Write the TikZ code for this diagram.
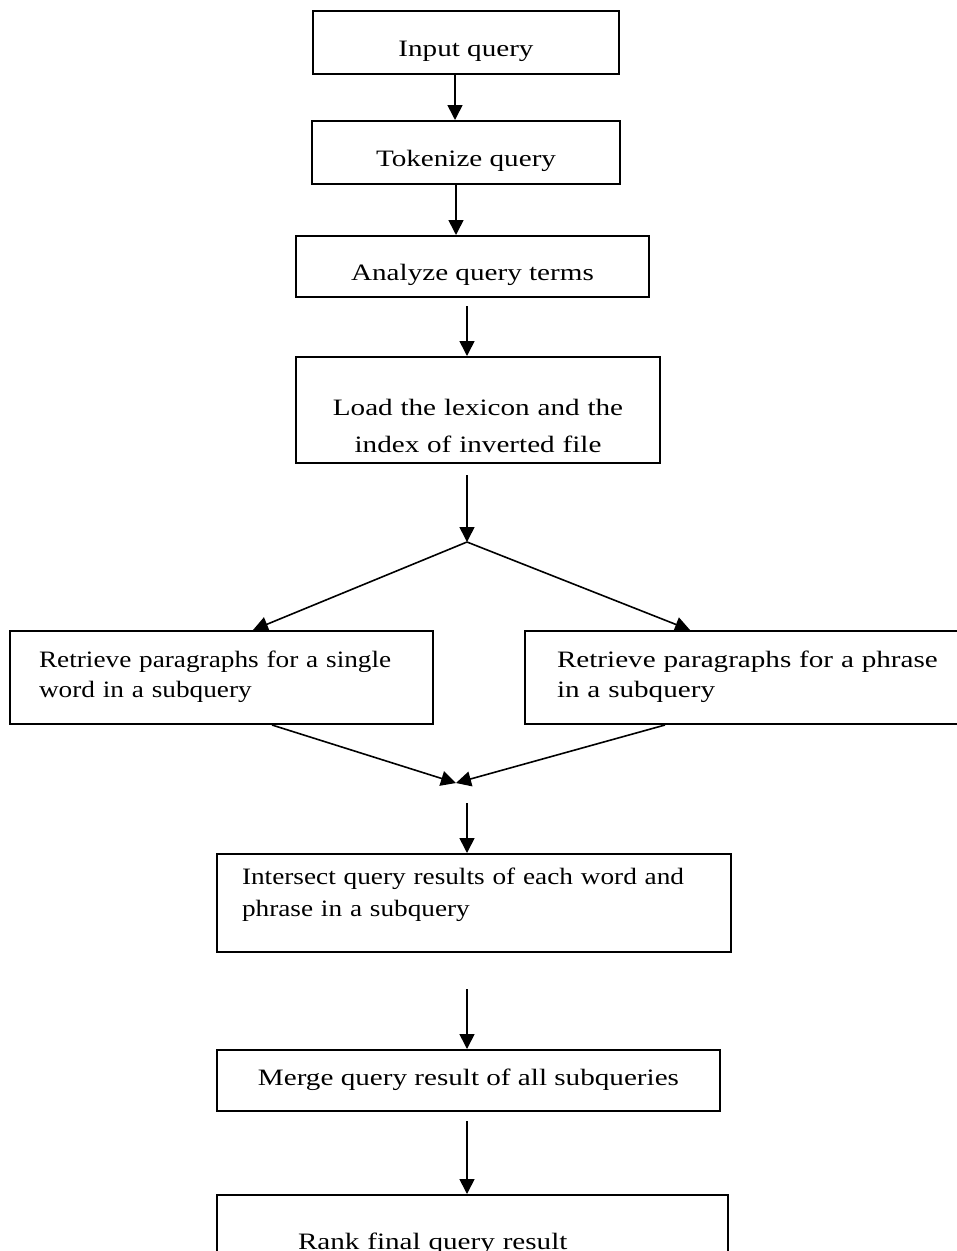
\documentclass[tikz,border=0pt]{standalone}
\usepackage{fontspec}
\setmainfont{Liberation Serif}[FakeStretch=1.24]
\newfontfamily\condfont{Liberation Serif}[FakeStretch=1.16]
\usetikzlibrary{arrows.meta,positioning}

\begin{document}
\begin{tikzpicture}[x=1pt, y=-1pt,
    box/.style={draw, line width=2pt, inner ysep=0pt, font=\fontsize{23.5}{30}\selectfont},
    arr/.style={-{Triangle[length=15pt,width=15pt]}, line width=1.6pt}]
  \useasboundingbox (0,0) rectangle (957,1251);

  \node [box, anchor=north, minimum width=306pt, text height=45pt, text depth=18pt] (inp) at (466,10) {Input query};
  \node [box, minimum width=308pt, text height=45pt, text depth=18pt] (tok) [below=45pt of inp] {Tokenize query};
  \node [box, minimum width=353pt, text height=44pt, text depth=17pt] (ana) [below=50pt of tok, xshift=6.5pt] {Analyze query terms};
  \node [box, text width=330pt, inner xsep=17pt, align=center, text height=58pt, text depth=48pt,
         font=\fontsize{23.5}{37}\selectfont] (load) [below=58pt of ana, xshift=5.5pt]
        {Load the lexicon and the\\index of inverted file};
  \node [box, anchor=north, text width=365pt, inner xsep=29pt, align=left, text height=36pt, text depth=57pt,
         font=\condfont\fontsize{23.5}{30}\selectfont] (word) at (221.5,630)
        {Retrieve paragraphs for a single\\word in a subquery};
  \node [box, anchor=north, text width=386pt, inner xsep=32pt, align=left, text height=36pt, text depth=57pt] (phrase) at (750,630)
        {Retrieve paragraphs for a phrase\\in a subquery};
  \node [box, anchor=north, text width=464pt, inner xsep=25pt, align=left, text height=30pt, text depth=68pt,
         font=\condfont\fontsize{23.5}{32}\selectfont] (inter) at (474,853)
        {Intersect query results of each word and\\phrase in a subquery};
  \node [box, minimum width=503pt, text height=35pt, text depth=26pt] (merge) [below=96pt of inter, xshift=-5.5pt] {Merge query result of all subqueries};
  \node [box, text width=349pt, inner xsep=81pt, align=left, text height=54pt, text depth=42pt] (rank) [below=82pt of merge, xshift=4pt] {Rank final query result};

  \coordinate (split) at (467,542);
  \coordinate (join) at (456,783);

  \draw [arr] ([xshift=-11pt]inp.south) -- ([xshift=-11pt]tok.north);
  \draw [arr] ([xshift=-10pt]tok.south) -- ([xshift=-16.5pt]ana.north);
  \draw [arr] ([xshift=-5.5pt,yshift=-8pt]ana.south) -- ([xshift=-11pt]load.north);
  \draw [arr] ([xshift=-11pt,yshift=-11pt]load.south) -- (split);
  \draw [arr] (split) -- ([xshift=31.5pt]word.north);
  \draw [arr] (split) -- ([xshift=-60pt]phrase.north);
  \draw [arr] ([xshift=50.5pt]word.south) -- (join);
  \draw [arr] ([xshift=-85pt]phrase.south) -- (join);
  \draw [arr] ([shift={(11pt,-20pt)}]join) -- ([xshift=-7pt]inter.north);
  \draw [arr] ([xshift=-7pt,yshift=-36pt]inter.south) -- ([xshift=-1.5pt]merge.north);
  \draw [arr] ([xshift=-1.5pt,yshift=-9pt]merge.south) -- ([xshift=-5.5pt]rank.north);
\end{tikzpicture}
\end{document}
